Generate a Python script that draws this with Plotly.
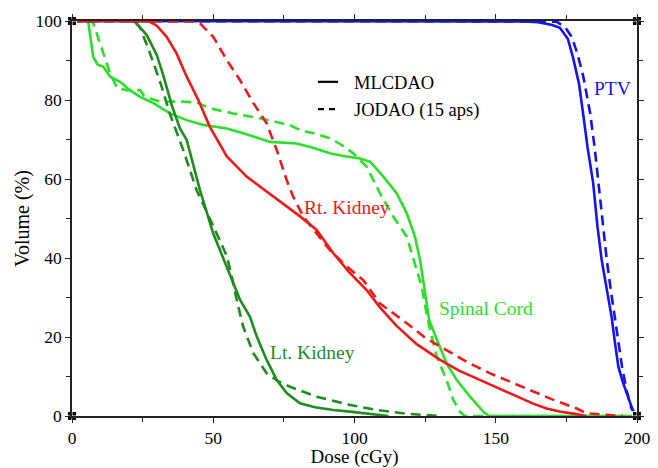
import plotly.graph_objects as go

# ---------------- data ----------------
ptv_ml_dose = [0, 150, 160, 165, 170, 172.7, 175.5, 177.3, 179.5, 180.9, 182.5, 184.5, 186, 187.5, 189.3, 191, 192.3, 193.4, 195, 196.3, 198.7, 200]
ptv_ml_vol = [100, 100, 99.9, 99.7, 99, 98.3, 95.5, 90.9, 84, 76.7, 68, 58.9, 48, 39.5, 31.5, 25.1, 18, 12.5, 8.5, 5.7, 1.1, 0]

ptv_jo_dose = [0, 155, 165, 171.6, 174.5, 176.9, 179, 181, 183.4, 185, 186.3, 188, 189.3, 190.8, 192.1, 193.5, 194.7, 196.3, 198, 200]
ptv_jo_vol = [100, 100, 99.9, 99.8, 98.5, 96, 91.5, 85.9, 76.7, 68, 58.9, 48.5, 39.5, 31.5, 25.1, 18, 12.5, 6.5, 2, 0]

rk_ml_dose = [0, 25, 27.6, 30, 33.5, 37, 40.6, 44.7, 48.8, 54.8, 61.8, 71.3, 80.6, 86.6, 92.5, 98, 104.3, 109, 114.9, 122, 130.3, 137, 144.4, 151, 157.4, 163, 168, 173, 177.5, 182]
rk_ml_vol = [100, 100, 99.8, 98.8, 96, 91.8, 85.9, 80, 73.2, 65.7, 60.6, 55.5, 50.6, 47.1, 41.2, 36.5, 31.9, 27.5, 22.8, 18.2, 14.2, 11.5, 9.1, 7, 4.9, 3.2, 1.9, 1.1, 0.6, 0]

rk_jo_dose = [0, 42, 45.3, 50, 54.8, 59.5, 64.2, 68.9, 72.5, 76, 78.3, 81.9, 86.6, 91.3, 97, 103.1, 109, 118.5, 125, 132.6, 140, 148, 155, 162, 170, 178.7, 182, 186, 190, 195]
rk_jo_vol = [100, 100, 99.4, 96, 90.1, 85, 79.2, 74.1, 67.3, 59.7, 55.5, 50.5, 46.2, 42, 38, 34.4, 28.5, 23.5, 19.8, 16.7, 13.6, 10.8, 8.6, 6.6, 4.2, 1.9, 0.7, 0.5, 0.3, 0]

lk_ml_dose = [0, 20, 22.3, 26.4, 30, 32.3, 35.3, 38.2, 40.6, 45.3, 50, 52.4, 54.8, 57.1, 59.5, 63, 65.4, 68.9, 72.5, 76, 80.7, 86, 92.5, 98.4, 105, 112]
lk_ml_vol = [100, 100, 99.8, 96.5, 91.4, 86.3, 78.7, 72.8, 69.9, 57.2, 46.2, 42, 37.8, 33.6, 29.4, 25.1, 20.1, 14.2, 9.1, 5.8, 3.2, 2.2, 1.5, 1.1, 0.5, 0]

lk_jo_dose = [0, 22, 24, 27, 31.2, 34.7, 39.4, 44.1, 51.2, 54.8, 56.5, 58.3, 60.6, 64.2, 68.9, 73, 77.2, 86.6, 98.4, 108, 118, 130]
lk_jo_vol = [100, 100, 98.5, 93, 84.6, 76.4, 67.3, 57.2, 46.2, 40.5, 35.5, 29.4, 22.6, 15.9, 10.8, 8.8, 7.4, 4.9, 2.8, 1.5, 0.6, 0]

sc_ml_dose = [0, 5, 5.8, 6.4, 7.5, 9, 11.1, 13.5, 17, 20.5, 24.1, 28.8, 34.7, 40.6, 46.5, 54.8, 60.6, 70.1, 79.5, 85, 91.3, 96, 101.9, 105.5, 110.2, 114.9, 118.5, 121.4, 123.2, 125, 126.4, 128.5, 130.3, 132.6, 136.2, 140.9, 145.6, 147.5, 200]
sc_ml_vol = [100, 100, 99.5, 96.9, 91, 89, 88.4, 85.9, 84.6, 82.5, 80.8, 79.2, 76.6, 74.9, 73.7, 72.8, 71.6, 69.4, 69, 68, 66.5, 65.8, 65.2, 64.4, 60.6, 56.4, 51.3, 45.4, 39.5, 31.1, 24.3, 20.5, 17.5, 13.3, 9.1, 4.9, 1.1, 0, 0]

sc_jo_dose = [0, 7, 7.5, 8.7, 11.1, 13.5, 16, 19.4, 24.1, 25.5, 27.6, 31.2, 38, 44.1, 48.8, 57.1, 66.5, 72, 77.2, 80.7, 85.4, 91.3, 95, 99.6, 104.3, 109, 113.7, 118.5, 121.4, 123.8, 125.5, 126.7, 129.1, 132.6, 135, 137.3, 139, 200]
sc_jo_vol = [100, 100, 99.5, 96.9, 91.8, 86.7, 83, 82.5, 82.5, 81, 80.4, 79.6, 79.6, 79.4, 77.9, 76.6, 75.4, 74.5, 73.6, 72.4, 71.6, 70.3, 68.8, 66.5, 63.1, 56.4, 50.5, 45.4, 38.6, 32.7, 26, 22, 15, 9.1, 4, 1.1, 0, 0]

x_ticks = [0, 50, 100, 150, 200]
y_ticks = [0, 20, 40, 60, 80, 100]
X_RANGE = [0, 200]
Y_RANGE = [0, 100]

BLUE = "#1414f0"
RED = "#f01818"
LIME = "#2ae02a"
DKGREEN = "#1e8c1e"
FONT = "Liberation Serif"
LW = 2.6
DASH = "10px,6px"

fig = go.Figure()

def add(x, y, color, dashed):
    fig.add_trace(go.Scatter(x=x, y=y, mode="lines",
                             line=dict(color=color, width=LW, dash=DASH if dashed else "solid"),
                             showlegend=False, hoverinfo="skip"))

add(sc_jo_dose, sc_jo_vol, LIME, True)
add(sc_ml_dose, sc_ml_vol, LIME, False)
add(lk_jo_dose, lk_jo_vol, DKGREEN, True)
add(lk_ml_dose, lk_ml_vol, DKGREEN, False)
add(ptv_jo_dose, ptv_jo_vol, BLUE, True)
add(ptv_ml_dose, ptv_ml_vol, BLUE, False)
add(rk_jo_dose, rk_jo_vol, RED, True)
add(rk_ml_dose, rk_ml_vol, RED, False)

# corner markers
fig.add_trace(go.Scatter(x=[X_RANGE[0], X_RANGE[1], X_RANGE[0], X_RANGE[1]],
                         y=[Y_RANGE[0], Y_RANGE[0], Y_RANGE[1], Y_RANGE[1]],
                         mode="markers", cliponaxis=False, showlegend=False, hoverinfo="skip",
                         marker=dict(symbol="square-cross", size=9, color="black",
                                     line=dict(color="white", width=1))))

labels = [
    ("PTV", 184, 83, BLUE),
    ("Rt. Kidney", 81.4, 52.9, RED),
    ("Spinal Cord", 129.2, 27.3, LIME),
    ("Lt. Kidney", 69.4, 16.2, DKGREEN),
]
for txt, x, y, c in labels:
    fig.add_annotation(x=x, y=y, text=txt, showarrow=False, xanchor="left", yanchor="middle",
                       font=dict(family=FONT, size=19.5, color=c))

# legend drawn in paper coordinates
fig.add_shape(type="line", xref="paper", yref="paper", x0=0.4354, x1=0.4708, y0=0.846, y1=0.846,
              line=dict(color="black", width=2.2))
fig.add_shape(type="line", xref="paper", yref="paper", x0=0.4354, x1=0.4708, y0=0.777, y1=0.777,
              line=dict(color="black", width=2.2, dash="6px,5px"))
fig.add_annotation(xref="paper", yref="paper", x=0.4956, y=0.842, text="MLCDAO", showarrow=False,
                   xanchor="left", yanchor="middle", font=dict(family=FONT, size=18.5, color="black"))
fig.add_annotation(xref="paper", yref="paper", x=0.4956, y=0.774, text="JODAO (15 aps)", showarrow=False,
                   xanchor="left", yanchor="middle", font=dict(family=FONT, size=18.5, color="black"))

axis_common = dict(showgrid=False, zeroline=False, showline=True, linecolor="#222222", linewidth=1.5,
                   mirror="ticks", ticks="outside", ticklen=5, tickcolor="#222222", tickwidth=1.2,
                   automargin=False,
                   tickfont=dict(family=FONT, size=17.5, color="black"))

fig.update_layout(
    width=658, height=468,
    margin=dict(l=72, r=21, t=21, b=52),
    paper_bgcolor="white", plot_bgcolor="white",
    xaxis=dict(range=X_RANGE, tickvals=x_ticks, ticktext=[str(v) for v in x_ticks],
               minor=dict(dtick=25, ticks="outside", ticklen=4, tickcolor="#222222"),
               title=dict(text="Dose (cGy)", font=dict(family=FONT, size=19, color="black"), standoff=5),
               **axis_common),
    yaxis=dict(range=Y_RANGE, tickvals=y_ticks, ticktext=[str(v) for v in y_ticks],
               minor=dict(dtick=10, ticks="outside", ticklen=4, tickcolor="#222222"),
               title=dict(text="Volume (%)", font=dict(family=FONT, size=20, color="black"), standoff=1),
               **axis_common),
)

fig.write_html("out.html", config={"displayModeBar": False},
               post_script="document.body.style.margin='0';document.body.style.padding='0';")
